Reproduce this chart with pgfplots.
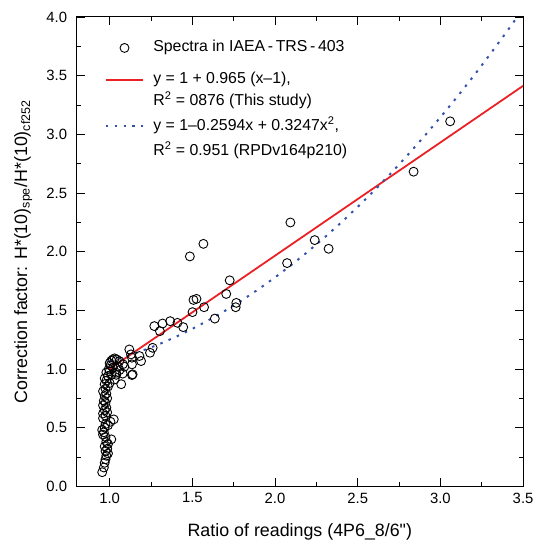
\documentclass[border=0pt]{standalone}
\usepackage{pgfplots}
\pgfplotsset{compat=1.18}
\usepackage{fontspec}
\setmainfont{Liberation Sans}
\definecolor{fitred}{RGB}{235,32,36}
\definecolor{fitblue}{RGB}{52,82,172}
\pgfplotstableread{
x y
0.955 0.12
0.965 0.16
0.970 0.20
0.975 0.23
0.980 0.26
0.990 0.28
0.975 0.30
0.985 0.32
0.970 0.34
0.990 0.36
0.980 0.38
1.010 0.40
0.975 0.42
0.960 0.44
0.965 0.46
0.955 0.48
0.970 0.50
0.990 0.52
0.975 0.53
1.005 0.55
1.025 0.57
0.960 0.58
0.975 0.60
0.960 0.62
0.985 0.63
0.970 0.65
0.980 0.67
0.960 0.69
0.975 0.71
0.965 0.73
0.985 0.75
0.970 0.77
0.980 0.79
0.960 0.81
0.975 0.83
0.990 0.85
0.970 0.87
1.000 0.88
0.980 0.90
1.030 0.91
0.970 0.92
0.990 0.94
1.010 0.95
0.980 0.97
1.000 0.98
0.995 1.00
1.020 1.01
1.005 1.03
1.000 1.05
1.010 1.07
1.030 1.09
1.070 0.87
1.040 0.95
1.060 0.99
1.050 1.02
1.080 1.04
1.119 1.166
1.180 1.110
1.135 1.039
1.190 1.067
1.139 0.954
1.079 0.960
1.059 1.067
1.019 1.081
1.129 1.124
1.089 1.019
1.043 1.081
1.039 0.968
1.135 0.948
1.135 1.096
1.244 1.138
1.260 1.180
1.270 1.365
1.304 1.322
1.320 1.387
1.366 1.407
1.410 1.393
1.445 1.356
1.485 1.959
1.567 2.066
1.501 1.484
1.507 1.588
1.525 1.597
1.571 1.526
1.636 1.429
1.705 1.639
1.726 1.755
1.762 1.526
1.766 1.563
2.073 1.902
2.093 2.248
2.240 2.098
2.324 2.024
2.838 2.681
3.059 3.110
}\spectra
\pgfplotstableread{
x y
1.0 1.0
3.5 3.4125
}\fitA
\pgfplotstableread{
x y
1.0 1.0653
1.1 1.1076
1.2 1.1563
1.3 1.2115
1.4 1.2733
1.5 1.3415
1.6 1.4162
1.7 1.4974
1.8 1.5851
1.9 1.6793
2.0 1.7800
2.1 1.8872
2.2 2.0009
2.3 2.1210
2.4 2.2477
2.5 2.3809
2.6 2.5205
2.7 2.6667
2.8 2.8193
2.9 2.9785
3.0 3.1441
3.1 3.3162
3.2 3.4949
3.3 3.6800
3.4 3.8716
3.465 4.0000
}\fitB
\begin{document}
\begin{tikzpicture}
\begin{axis}[
  width=449bp, height=472bp, scale only axis,
  xmin=0.8, xmax=3.5, ymin=0, ymax=4,
  xtick={1,1.5,2,2.5,3,3.5},
  ytick={0,0.5,1,1.5,2,2.5,3,3.5,4},
  minor tick num=1,
  tick align=inside,
  major tick length=8bp, minor tick length=4bp,
  every tick/.style={black, line width=0.8bp},
  axis line style={line width=0.9bp},
  ticklabel style={font=\fontsize{15}{18}\selectfont},
  /pgf/number format/assume math mode=true,
  xticklabel style={/pgf/number format/fixed, /pgf/number format/fixed zerofill, /pgf/number format/precision=1, yshift=-3bp},
  yticklabel style={/pgf/number format/fixed, /pgf/number format/fixed zerofill, /pgf/number format/precision=1, xshift=-6bp},
  label style={font=\fontsize{18}{21}\selectfont},
  xlabel={Ratio of readings (4P6\_8/6\textquotedbl)},
  xlabel style={at={(axis description cs:0.5,0)}, anchor=base, yshift=-51bp},
  ylabel={Correction factor: H*(10)\textsubscript{spe}/H*(10)\textsubscript{cf252}},
  ylabel style={at={(axis description cs:-0.111,0.5)}, anchor=base, rotate=0},
  legend cell align=left,
  legend image code/.code={\draw[mark repeat=2,mark phase=2,#1] plot coordinates {(0bp,0bp) (19bp,0bp) (38bp,0bp)};},
  legend style={at={(axis description cs:0,1)}, anchor=north west, xshift=28bp, yshift=-20bp,
    draw=none, fill=none, font=\fontsize{16}{19}\selectfont,
    row sep=0pt, column sep=9bp, inner sep=0pt,
    nodes={inner sep=0pt, text height=15bp, text depth=7bp}},
]
\addplot[only marks, mark=o, mark size=4.5bp, mark options={black, fill=white, line width=0.9bp}] table {\spectra};
\addlegendentry{Spectra in IAEA\,-\,TRS\,-\,403}
\addplot[fitred, line width=1.8bp, legend image post style={yshift=-10bp}] table {\fitA};
\addlegendentry{\raisebox{-10bp}{y = 1 + 0.965 (x--1),}}
\addlegendimage{empty legend}
\addlegendentry{\raisebox{-10bp}{R\textsuperscript{2} = 0876 (This study)}}
\addplot[fitblue, line width=2bp, dash pattern=on 2.5bp off 6.5bp, legend image post style={yshift=-13bp}] table {\fitB};
\addlegendentry{\raisebox{-13bp}{y = 1--0.2594x + 0.3247x\textsuperscript{2},}}
\addlegendimage{empty legend}
\addlegendentry{\raisebox{-13bp}{R\textsuperscript{2} = 0.951 (RPDv164p210)}}
\end{axis}
\path (current axis.south west) ++(-77bp,-55bp) rectangle ++(538bp,544bp);
\end{tikzpicture}
\end{document}
